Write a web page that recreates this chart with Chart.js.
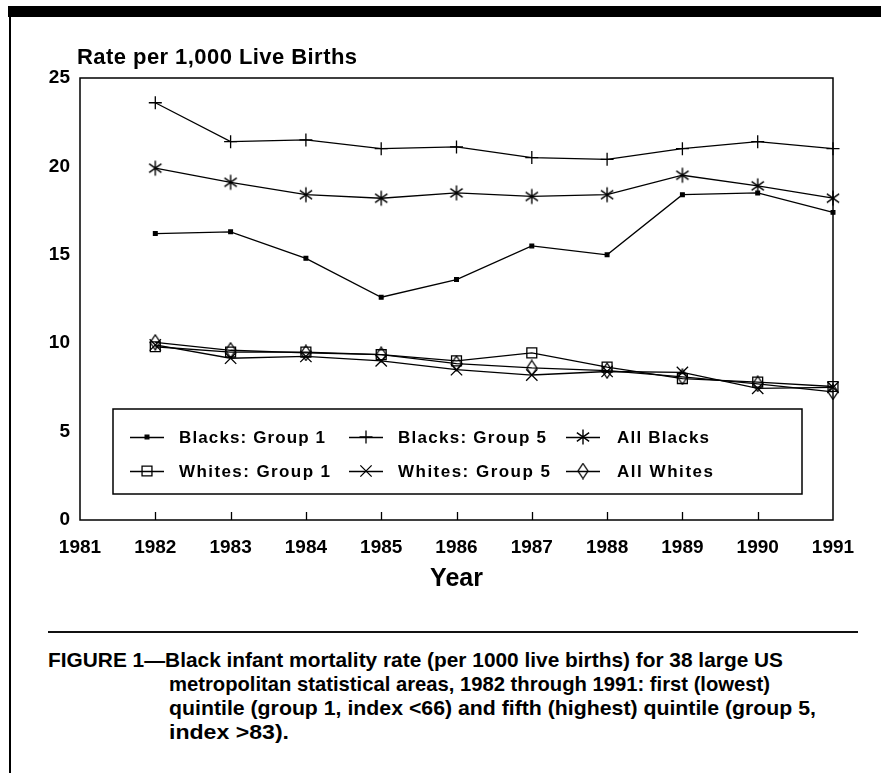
<!DOCTYPE html>
<html>
<head>
<meta charset="utf-8">
<script src="https://cdn.jsdelivr.net/npm/chart.js@4.4.1/dist/chart.umd.min.js"></script>
<style>
  html, body { margin: 0; padding: 0; background: #fff; }
  body { width: 881px; height: 773px; position: relative; overflow: hidden; }
  #topbar { position: absolute; left: 8px; top: 6px; width: 873px; height: 11px; background: #000; }
  #leftline { position: absolute; left: 9px; top: 6px; width: 2px; height: 767px; background: #000; }
  #chartwrap { position: absolute; left: 0; top: 0; width: 881px; height: 600px; }
  #rule { position: absolute; left: 48px; top: 631px; width: 810px; height: 2px; background: #111; }
  .cap { position: absolute; white-space: nowrap; transform-origin: 0 0;
         font-family: "Liberation Sans Narrow", "Arial Narrow", "Liberation Sans", Arial, sans-serif;
         font-weight: bold; font-size: 21px; line-height: 24px; color: #000; }
</style>
</head>
<body>
<div id="topbar"></div>
<div id="leftline"></div>
<div id="chartwrap"><canvas id="c" width="881" height="600"></canvas></div>
<div id="rule"></div>
<div class="cap" id="cap1" data-w="735" style="left:48px; top:648px;">FIGURE 1—Black infant mortality rate (per 1000 live births) for 38 large US</div>
<div class="cap" id="cap2" data-w="601" style="left:169px; top:672px;">metropolitan statistical areas, 1982 through 1991: first (lowest)</div>
<div class="cap" id="cap3" data-w="647" style="left:169px; top:696px;">quintile (group 1, index &lt;66) and fifth (highest) quintile (group 5,</div>
<div class="cap" id="cap4" data-w="120" style="left:169px; top:720px;">index &gt;83).</div>
<script>
// ---- data ----
const years = [1982, 1983, 1984, 1985, 1986, 1987, 1988, 1989, 1990, 1991];
const blacksGroup1 = [16.2, 16.3, 14.8, 12.6, 13.6, 15.5, 15.0, 18.4, 18.5, 17.4];
const blacksGroup5 = [23.6, 21.4, 21.5, 21.0, 21.1, 20.5, 20.4, 21.0, 21.4, 21.0];
const allBlacks    = [19.9, 19.1, 18.4, 18.2, 18.5, 18.3, 18.4, 19.5, 18.9, 18.2];
const whitesGroup1 = [9.8, 9.5, 9.5, 9.35, 9.0, 9.45, 8.65, 8.0, 7.8, 7.55];
const whitesGroup5 = [9.9, 9.15, 9.25, 9.0, 8.5, 8.2, 8.4, 8.35, 7.45, 7.5];
const allWhites    = [10.05, 9.6, 9.45, 9.35, 8.85, 8.6, 8.45, 8.1, 7.7, 7.25];
const seriesLabels = ["Blacks: Group 1", "Blacks: Group 5", "All Blacks",
                      "Whites: Group 1", "Whites: Group 5", "All Whites"];
const xTickValues = [1981, 1982, 1983, 1984, 1985, 1986, 1987, 1988, 1989, 1990, 1991];
const yTickValues = [0, 5, 10, 15, 20, 25];
const yAxisTitle = "Rate per 1,000 Live Births";
const xAxisTitle = "Year";

// ---- custom marker canvases ----
function makeAsterisk() {
  const c = document.createElement('canvas'); c.width = 18; c.height = 18;
  const g = c.getContext('2d'); g.strokeStyle = '#000'; g.lineWidth = 1.4;
  const cx = 9, cy = 9, r = 7.5;
  g.beginPath();
  g.moveTo(cx, cy - r); g.lineTo(cx, cy + r);
  const a = 35 * Math.PI / 180;
  g.moveTo(cx - r * Math.cos(a), cy - r * Math.sin(a)); g.lineTo(cx + r * Math.cos(a), cy + r * Math.sin(a));
  g.moveTo(cx - r * Math.cos(a), cy + r * Math.sin(a)); g.lineTo(cx + r * Math.cos(a), cy - r * Math.sin(a));
  g.stroke();
  return c;
}
function makeDiamond() {
  const c = document.createElement('canvas'); c.width = 12; c.height = 17;
  const g = c.getContext('2d'); g.strokeStyle = '#000'; g.lineWidth = 1.3;
  g.beginPath();
  g.moveTo(6, 1); g.lineTo(11, 8.5); g.lineTo(6, 16); g.lineTo(1, 8.5); g.closePath();
  g.stroke();
  return c;
}
const asterisk = makeAsterisk();
const diamond = makeDiamond();

function pts(arr) { return arr.map((v, i) => ({ x: years[i], y: v })); }
const base = { borderColor: '#000', borderWidth: 1.3, pointBorderColor: '#000', pointBorderWidth: 1.3,
               backgroundColor: 'rgba(0,0,0,0)', pointBackgroundColor: 'rgba(0,0,0,0)', tension: 0, clip: false };

const datasets = [
  Object.assign({}, base, { label: seriesLabels[0], data: pts(blacksGroup1), pointStyle: 'rect', pointRadius: 2.6, pointBackgroundColor: '#000' }),
  Object.assign({}, base, { label: seriesLabels[1], data: pts(blacksGroup5), pointStyle: 'cross', pointRadius: 6.5 }),
  Object.assign({}, base, { label: seriesLabels[2], data: pts(allBlacks), pointStyle: asterisk, pointRadius: 8 }),
  Object.assign({}, base, { label: seriesLabels[3], data: pts(whitesGroup1), pointStyle: 'rect', pointRadius: 7 }),
  Object.assign({}, base, { label: seriesLabels[4], data: pts(whitesGroup5), pointStyle: 'crossRot', pointRadius: 8 }),
  Object.assign({}, base, { label: seriesLabels[5], data: pts(allWhites), pointStyle: diamond, pointRadius: 8 })
];

const FONT = '"Liberation Sans", Arial, Helvetica, sans-serif';

function fitText(ctx, text, x, y, targetW) {
  ctx.letterSpacing = '0px';
  const w = ctx.measureText(text).width;
  const n = Math.max(text.length - 1, 1);
  ctx.letterSpacing = ((targetW - w) / n).toFixed(2) + 'px';
  ctx.fillText(text, x, y);
  ctx.letterSpacing = '0px';
}

const framePlugin = {
  id: 'frame',
  afterDraw(chart) {
    const ctx = chart.ctx, a = chart.chartArea, xs = chart.scales.x;
    ctx.save();
    ctx.strokeStyle = '#000'; ctx.lineWidth = 1.5;
    ctx.strokeRect(a.left, a.top, a.right - a.left, a.bottom - a.top);
    // inward tick marks
    ctx.lineWidth = 1.3;
    ctx.beginPath();
    xTickValues.slice(1, -1).forEach(v => {
      const px = Math.round(xs.getPixelForValue(v)) + 0.5;
      ctx.moveTo(px, a.bottom); ctx.lineTo(px, a.bottom - 8);
    });
    ctx.stroke();
    // y axis title
    ctx.fillStyle = '#000';
    ctx.font = 'bold 22px ' + FONT;
    ctx.textAlign = 'left'; ctx.textBaseline = 'middle';
    fitText(ctx, yAxisTitle, 77, 58, 280);
    // legend
    const lx = 113, ly = 409, lw = 689, lh = 85;
    ctx.lineWidth = 1.5;
    ctx.strokeRect(lx, ly, lw, lh);
    const colSym = [147, 366, 583], colText = [179, 398, 617], rows = [437, 471];
    const textW = [146, 148, 92, 151, 152, 96];
    ctx.font = 'bold 17px ' + FONT;
    chart.data.datasets.forEach((ds, i) => {
      const col = i % 3, row = Math.floor(i / 3);
      const sx = colSym[col], sy = rows[row];
      ctx.lineWidth = 1.3; ctx.strokeStyle = '#000';
      ctx.beginPath(); ctx.moveTo(sx - 17, sy + 0.5); ctx.lineTo(sx + 17, sy + 0.5); ctx.stroke();
      ctx.fillStyle = ds.pointBackgroundColor;
      Chart.helpers.drawPoint(ctx, {
        pointStyle: ds.pointStyle, radius: ds.pointRadius, borderWidth: 1.3, rotation: 0
      }, sx, sy);
      ctx.fillStyle = '#000';
      fitText(ctx, ds.label, colText[col], sy + 1, textW[i]);
    });
    ctx.restore();
  }
};

new Chart(document.getElementById('c'), {
  type: 'line',
  data: { datasets },
  options: {
    responsive: false,
    animation: false,
    events: [],
    layout: { padding: { left: 0, top: 78, right: 48, bottom: 0 } },
    plugins: { legend: { display: false }, tooltip: { enabled: false }, title: { display: false } },
    scales: {
      x: {
        type: 'linear', min: 1981, max: 1991,
        afterBuildTicks: s => { s.ticks = xTickValues.map(v => ({ value: v })); },
        afterFit: s => { s.height = 80; },
        grid: { display: false, drawTicks: false },
        border: { display: false },
        ticks: { color: '#000', padding: 16, maxRotation: 0, autoSkip: false,
                 font: { family: FONT, size: 19, weight: 'bold' },
                 callback: v => String(v) },
        title: { display: true, text: xAxisTitle, color: '#000',
                 font: { family: FONT, size: 25, weight: 'bold' }, padding: { top: 0, bottom: 6 } }
      },
      y: {
        min: 0, max: 25,
        afterBuildTicks: s => { s.ticks = yTickValues.map(v => ({ value: v })); },
        afterFit: s => { s.width = 80; },
        grid: { display: false, drawTicks: false },
        border: { display: false },
        ticks: { color: '#000', padding: 10, font: { family: FONT, size: 19, weight: 'bold' },
                 callback: v => String(v) }
      }
    }
  },
  plugins: [framePlugin]
});

// fit caption lines to their measured widths in the reference
document.querySelectorAll('.cap').forEach(el => {
  const target = parseFloat(el.dataset.w);
  const w = el.getBoundingClientRect().width;
  if (w > 0) el.style.transform = 'scaleX(' + (target / w).toFixed(4) + ')';
});
</script>
</body>
</html>
